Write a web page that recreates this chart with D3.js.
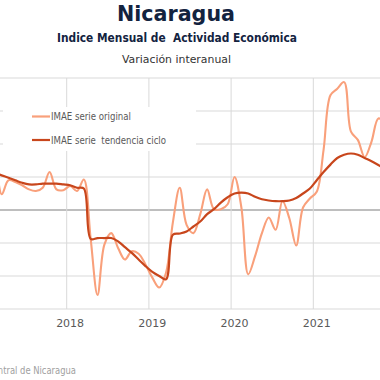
<!DOCTYPE html>
<html>
<head>
<meta charset="utf-8">
<script src="https://cdn.jsdelivr.net/npm/d3@7"></script>
<style>
  html, body { margin: 0; padding: 0; background: #fff; }
  svg { display: block; }
  text { font-family: "DejaVu Sans", "Noto Sans", sans-serif; }
</style>
</head>
<body>
<div id="chart"></div>
<script>
// ---- data (Jan 2017 .. Nov 2021, monthly, % y-o-y) ----
const startYear = 2017;
const original = [
  4.5, 4.9, 1.9, 3.6, 3.4, 3.0, 2.5, 2.3, 2.7, 4.6, 2.5, 2.4,
  2.9, 2.3, 3.7, -3.5, -10.3, -4.2, -2.8, -4.6, -6.0, -5.0, -5.3, -6.6,
  -8.2, -9.4, -7.6, -1.5, 2.7, -1.8, -2.8, -0.5, 2.5, 0.1, 0.1, 0.7,
  4.0, 0.3, -7.8, -5.6, -2.8, -0.9, -2.4, 1.1, -1.0, -4.3, 0.3, 1.4,
  2.2, 7.3, 13.9, 14.7, 15.5, 9.5, 8.5, 6.4, 8.3, 11.1, 10.5
];
const trend = [
  4.8, 4.5, 4.2, 3.9, 3.6, 3.3, 3.1, 3.1, 3.2, 3.2, 3.2, 3.1,
  3.0, 2.7, 2.6, -3.5, -3.4, -3.4, -3.4, -3.8, -4.5, -5.2, -6.0, -6.8,
  -7.5, -8.0, -8.4, -3.0, -2.85, -2.6, -2.0, -1.4, -0.5, 0.1, 0.9, 1.55,
  2.0, 2.1, 2.0, 1.6, 1.3, 1.15, 1.07, 1.07, 1.15, 1.45, 2.0, 2.6,
  3.6, 4.6, 5.5, 6.3, 6.7, 6.85, 6.7, 6.3, 5.9, 5.45, 5.0
];
const yearTicks = [2017, 2018, 2019, 2020, 2021, 2022];
const yearLabels = ["2018", "2019", "2020", "2021"];
const yTicks = [-12, -8, -4, 0, 4, 8, 12, 16];
const seriesNames = ["IMAE serie original", "IMAE serie  tendencia ciclo"];
const titleText = "Nicaragua";
const subtitleText = "Indice Mensual de  Actividad Económica";
const subtitle2Text = "Variación interanual";
const sourceText = "Fuente: Banco Central de Nicaragua";

// ---- layout ----
const W = 380, H = 380;
const svg = d3.select("#chart").append("svg").attr("width", W).attr("height", H);

const x = d3.scaleLinear().domain([2017, 2022]).range([-15.5, 395.5]);
const y = d3.scaleLinear().domain([-12, 16]).range([309, 78]);
const monthX = i => x(startYear + (i + 0.5) / 12);

const colOrig = "#f9a07b";
const colTrend = "#c8461c";

// horizontal gridlines
svg.append("g").selectAll("line").data(yTicks).join("line")
  .attr("x1", 0).attr("x2", W)
  .attr("y1", d => y(d)).attr("y2", d => y(d))
  .attr("stroke", d => d === 0 ? "#7f7f7f" : "#d9d9d9")
  .attr("stroke-width", d => d === 0 ? 1.2 : 1);

// vertical gridlines at year boundaries
svg.append("g").selectAll("line").data(yearTicks).join("line")
  .attr("x1", d => x(d)).attr("x2", d => x(d))
  .attr("y1", y(16)).attr("y2", y(-12))
  .attr("stroke", "#d9d9d9").attr("stroke-width", 1);

// year labels (centered on January)
svg.append("g").selectAll("text").data(yearLabels).join("text")
  .attr("x", d => x(+d + 0.5 / 12))
  .attr("y", 327)
  .attr("text-anchor", "middle")
  .attr("font-size", 11)
  .attr("fill", "#595959")
  .text(d => d);

// lines
const line = d3.line()
  .x((d, i) => monthX(i))
  .y(d => y(d))
  .curve(d3.curveCatmullRom.alpha(0.5));

svg.append("path").datum(original)
  .attr("d", line).attr("fill", "none")
  .attr("stroke", colOrig).attr("stroke-width", 2.1)
  .attr("stroke-linejoin", "round");

svg.append("path").datum(trend)
  .attr("d", line).attr("fill", "none")
  .attr("stroke", colTrend).attr("stroke-width", 2.2)
  .attr("stroke-linejoin", "round");

// legend
const lg = svg.append("g");
lg.append("rect").attr("x", 3).attr("y", 107).attr("width", 193).attr("height", 44)
  .attr("fill", "#fff");
const legendY = [116.5, 140];
const legendCols = [colOrig, colTrend];
const legendW = [80, 115];
seriesNames.forEach((name, i) => {
  lg.append("line").attr("x1", 32).attr("x2", 50)
    .attr("y1", legendY[i]).attr("y2", legendY[i])
    .attr("stroke", legendCols[i]).attr("stroke-width", 2.2);
  lg.append("text").attr("x", 51).attr("y", legendY[i] + 3.6)
    .attr("font-size", 10).attr("fill", "#595959")
    .style("white-space", "pre")
    .attr("textLength", legendW[i]).attr("lengthAdjust", "spacingAndGlyphs")
    .text(name);
});

// titles
svg.append("text").attr("x", 176).attr("y", 20.7)
  .attr("text-anchor", "middle").attr("font-size", 22).attr("font-weight", "bold")
  .attr("fill", "#13233f")
  .attr("textLength", 118).attr("lengthAdjust", "spacingAndGlyphs")
  .text(titleText);
svg.append("text").attr("x", 177).attr("y", 41.7)
  .attr("text-anchor", "middle").attr("font-size", 11.5).attr("font-weight", "bold")
  .attr("fill", "#13233f").style("white-space", "pre")
  .attr("textLength", 240).attr("lengthAdjust", "spacingAndGlyphs")
  .text(subtitleText);
svg.append("text").attr("x", 176.5).attr("y", 63)
  .attr("text-anchor", "middle").attr("font-size", 11)
  .attr("fill", "#333333")
  .attr("textLength", 109).attr("lengthAdjust", "spacingAndGlyphs")
  .text(subtitle2Text);

// source (cropped at the left edge, as in the reference)
svg.append("text").attr("x", -76).attr("y", 374)
  .attr("font-size", 10)
  .attr("fill", "#a0a0a0")
  .attr("textLength", 152).attr("lengthAdjust", "spacingAndGlyphs")
  .text(sourceText);
</script>
</body>
</html>
